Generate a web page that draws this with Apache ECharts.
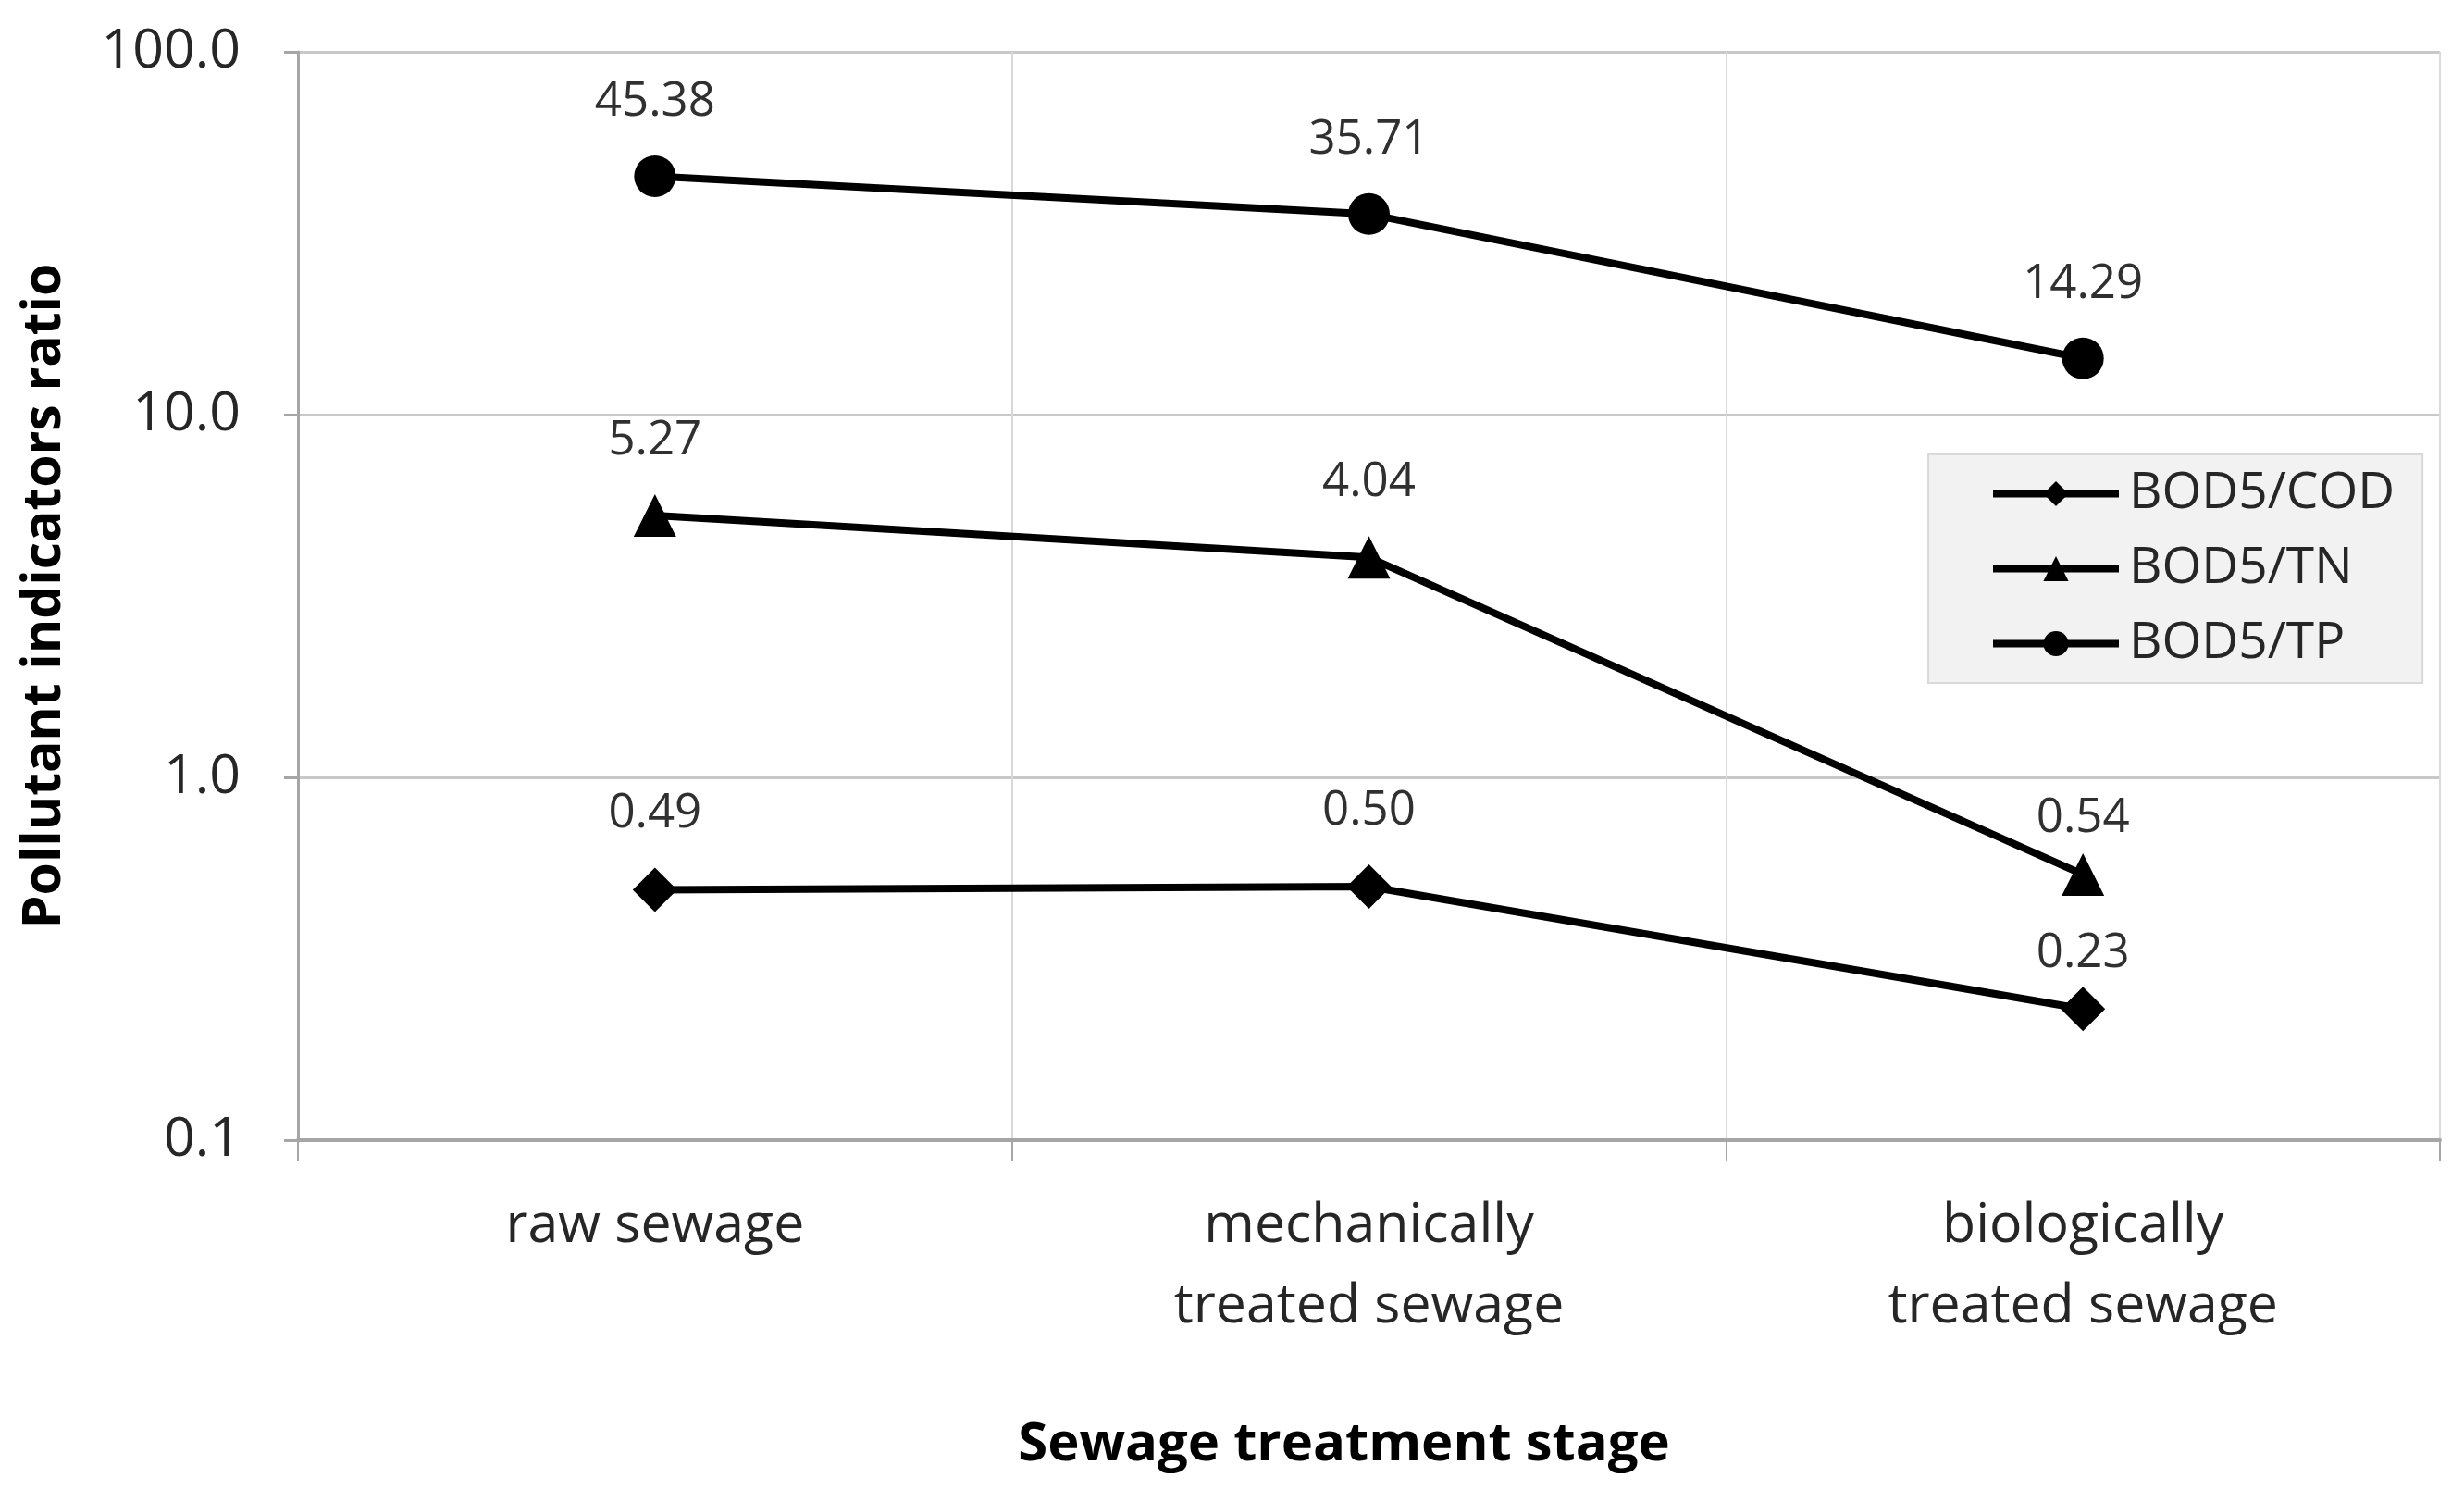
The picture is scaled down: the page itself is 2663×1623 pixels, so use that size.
<!DOCTYPE html>
<html>
<head>
<meta charset="utf-8">
<script src="https://cdn.jsdelivr.net/npm/echarts@6/dist/echarts.min.js"></script>
<style>
html,body{margin:0;padding:0;background:#fff;}
#chart{width:2663px;height:1623px;}
</style>
</head>
<body>
<div id="chart"></div>
<script>
var categories = ['raw sewage', 'mechanically\ntreated sewage', 'biologically\ntreated sewage'];
var seriesNames = ['BOD5/COD', 'BOD5/TN', 'BOD5/TP'];
var codValues = [0.49, 0.50, 0.23];
var tnValues = [5.27, 4.04, 0.54];
var tpValues = [45.38, 35.71, 14.29];

var FONT = '"Open Sans", "Noto Sans", sans-serif';

function makeSeries(name, values, symbol, symbolSize, lastDist) {
  return {
    name: name,
    type: 'line',
    data: values.map(function (v, i) {
      var d = { value: v };
      if (i === values.length - 1 && lastDist != null) {
        d.label = { distance: lastDist };
      }
      return d;
    }),
    symbol: symbol,
    symbolSize: symbolSize,
    lineStyle: { color: '#000', width: 8 },
    itemStyle: { color: '#000' },
    label: {
      show: true,
      position: 'top',
      distance: 32,
      fontFamily: FONT,
      fontSize: 51,
      color: '#303030',
      formatter: function (p) { return p.value.toFixed(2); }
    },
    z: 3
  };
}

var chart = echarts.init(document.getElementById('chart'));
chart.setOption({
  animation: false,
  backgroundColor: '#fff',
  grid: { left: 322, right: 26, top: 56, bottom: 391 },
  legend: {
    orient: 'vertical',
    left: 2084,
    top: 491,
    data: seriesNames,
    backgroundColor: '#f2f2f2',
    borderColor: '#d9d9d9',
    borderWidth: 2,
    borderRadius: 0,
    padding: [14, 30, 14, 66],
    itemWidth: 136,
    itemHeight: 34,
    itemGap: 24,
    lineStyle: { width: 8, color: '#000' },
    itemStyle: { color: '#000' },
    textStyle: {
      fontFamily: FONT,
      fontSize: 55,
      lineHeight: 57,
      color: '#262626',
      padding: [0, 0, 0, 6]
    }
  },
  xAxis: {
    type: 'category',
    data: categories,
    boundaryGap: true,
    name: 'Sewage treatment stage',
    nameLocation: 'middle',
    nameGap: 300,
    nameTextStyle: { fontFamily: FONT, fontSize: 58, fontWeight: 'bold', color: '#000', padding: [0, 54, 0, 0] },
    axisLine: { show: true, lineStyle: { color: '#a6a6a6', width: 4 } },
    axisTick: { show: true, length: 22, lineStyle: { color: '#a6a6a6', width: 2 } },
    axisLabel: {
      interval: 0,
      margin: 50,
      fontFamily: FONT,
      fontSize: 59,
      lineHeight: 87,
      color: '#262626'
    },
    splitLine: { show: true, interval: 0, lineStyle: { color: '#d9d9d9', width: 2 } }
  },
  yAxis: {
    type: 'log',
    logBase: 10,
    min: 0.1,
    max: 100,
    name: 'Pollutant indicators ratio',
    nameLocation: 'middle',
    nameGap: 245,
    nameTextStyle: { fontFamily: FONT, fontSize: 57, fontWeight: 'bold', color: '#000' },
    axisLine: { show: true, lineStyle: { color: '#a6a6a6', width: 3 } },
    axisTick: { show: true, length: 15, lineStyle: { color: '#a6a6a6', width: 3 } },
    axisLabel: {
      margin: 62,
      fontFamily: FONT,
      fontSize: 59,
      color: '#262626',
      formatter: function (v) { return Number(v).toFixed(1); }
    },
    splitLine: { show: true, lineStyle: { color: '#c8c8c8', width: 3 } }
  },
  series: [
    makeSeries(seriesNames[0], codValues, 'diamond', 48, 10),
    makeSeries(seriesNames[1], tnValues, 'triangle', 46, 12),
    makeSeries(seriesNames[2], tpValues, 'circle', 45, null)
  ]
});
</script>
</body>
</html>
